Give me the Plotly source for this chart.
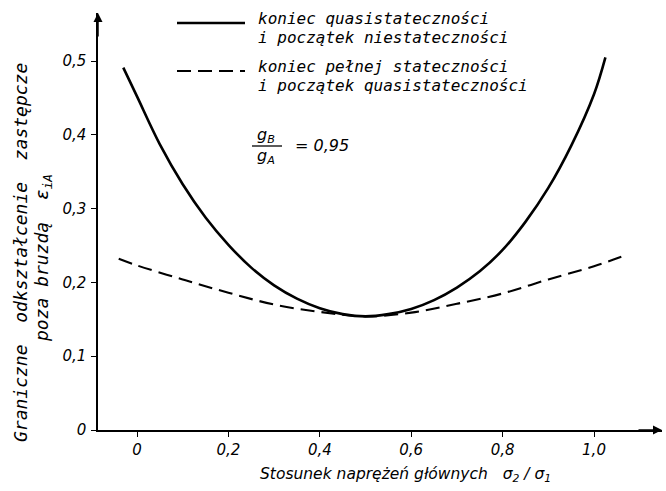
import plotly.graph_objects as go

# ---- data ----
solid_x = [-0.03, 0.0, 0.05, 0.1, 0.15, 0.2, 0.25, 0.3, 0.35, 0.4, 0.45, 0.5,
           0.55, 0.6, 0.65, 0.7, 0.75, 0.8, 0.85, 0.9, 0.95, 1.0, 1.025]
solid_y = [0.491, 0.452, 0.387, 0.333, 0.288, 0.251, 0.220, 0.196, 0.178, 0.165, 0.157, 0.154,
           0.157, 0.164, 0.176, 0.193, 0.215, 0.244, 0.282, 0.328, 0.385, 0.455, 0.505]

dash_x = [-0.04, 0.0, 0.1, 0.2, 0.3, 0.4, 0.5, 0.6, 0.7, 0.8, 0.9, 1.0, 1.07]
dash_y = [0.232, 0.223, 0.204, 0.186, 0.170, 0.160, 0.154, 0.159, 0.171, 0.185, 0.204, 0.222, 0.237]

x_tickvals = [0, 0.2, 0.4, 0.6, 0.8, 1.0]
x_ticktext = ["0", "0,2", "0,4", "0,6", "0,8", "1,0"]
y_tickvals = [0, 0.1, 0.2, 0.3, 0.4, 0.5]
y_ticktext = ["0", "0,1", "0,2", "0,3", "0,4", "0,5"]

name_solid = ["koniec quasistateczności", "i początek niestateczności"]
name_dash = ["koniec pełnej stateczności", "i początek quasistateczności"]

SANS = "DejaVu Sans"
MONO = "DejaVu Sans Mono"
W, H = 666, 491
L, R, T, B = 98, 4, 13, 61
PW, PH = W - L - R, H - T - B


def px(xp):
    return (xp - L) / PW


def py(yp):
    return (H - B - yp) / PH


fig = go.Figure()
fig.add_trace(go.Scatter(x=solid_x, y=solid_y, mode="lines", name=" ".join(name_solid),
                         line=dict(color="black", width=2.6, shape="spline", smoothing=1.0),
                         showlegend=False))
fig.add_trace(go.Scatter(x=dash_x, y=dash_y, mode="lines", name=" ".join(name_dash),
                         line=dict(color="black", width=2.1, dash="14px,7px", shape="spline",
                                   smoothing=1.0),
                         showlegend=False))

axis_font = dict(family=SANS, size=15, color="black", style="italic")
fig.update_xaxes(range=[(L - 137) / 457, (W - R - 137) / 457], showgrid=False, zeroline=False,
                 showline=True, linecolor="black", linewidth=1.5,
                 ticks="outside", ticklen=5, tickcolor="black", tickwidth=1.2,
                 tickvals=x_tickvals, ticktext=x_ticktext, tickfont=axis_font)
fig.update_yaxes(range=[0, (H - B - T) / 738], showgrid=False, zeroline=False,
                 showline=True, linecolor="black", linewidth=1.5,
                 ticks="outside", ticklen=5, tickcolor="black", tickwidth=1.2,
                 tickvals=y_tickvals, ticktext=y_ticktext, tickfont=axis_font,
                 ticklabelstandoff=2)

ann = []
leg_font = dict(family=MONO, size=16, color="black", style="italic")
# legend texts
for yc, t in zip([18, 38, 67, 85], name_solid + name_dash):
    ann.append(dict(xref="paper", yref="paper", x=px(256), y=py(yc), text=t,
                    showarrow=False, xanchor="left", yanchor="middle", font=leg_font))
# fraction
frac_font = dict(family=SANS, size=16, color="black", style="italic")
ann.append(dict(xref="paper", yref="paper", x=px(266), y=py(135), text="g<sub>B</sub>",
                showarrow=False, xanchor="center", yanchor="middle", font=frac_font))
ann.append(dict(xref="paper", yref="paper", x=px(266), y=py(157), text="g<sub>A</sub>",
                showarrow=False, xanchor="center", yanchor="middle", font=frac_font))
ann.append(dict(xref="paper", yref="paper", x=px(293), y=py(145), text="= 0,95",
                showarrow=False, xanchor="left", yanchor="middle", font=frac_font))
# axis titles
ytitle_font = dict(family=MONO, size=18, color="black", style="italic")
ann.append(dict(xref="paper", yref="paper", x=px(20), y=py(253),
                text="Graniczne  odkształcenie  zastępcze", textangle=-90,
                showarrow=False, xanchor="center", yanchor="middle", font=ytitle_font))
ann.append(dict(xref="paper", yref="paper", x=px(43), y=py(258),
                text="poza bruzdą  ε<sub>iA</sub>", textangle=-90,
                showarrow=False, xanchor="center", yanchor="middle", font=ytitle_font))
xtitle_font = dict(family=SANS, size=15.5, color="black", style="italic")
ann.append(dict(xref="paper", yref="paper", x=px(405), y=py(475),
                text="Stosunek naprężeń głównych   σ<sub>2</sub> / σ<sub>1</sub>",
                showarrow=False, xanchor="center", yanchor="middle", font=xtitle_font))
# axis arrowheads
ann.append(dict(xref="paper", yref="paper", x=0, y=1, ax=0, ay=25, showarrow=True,
                arrowhead=2, arrowsize=1.2, arrowwidth=1.5, arrowcolor="black", text=""))
ann.append(dict(xref="paper", yref="paper", x=1, y=0, ax=-25, ay=0, showarrow=True,
                arrowhead=2, arrowsize=1.2, arrowwidth=1.5, arrowcolor="black", text=""))

shapes = [
    dict(type="line", xref="paper", yref="paper", x0=px(177), x1=px(245), y0=py(23), y1=py(23),
         line=dict(color="black", width=2.6)),
    dict(type="line", xref="paper", yref="paper", x0=px(177), x1=px(245), y0=py(71), y1=py(71),
         line=dict(color="black", width=2.1, dash="14px,7px")),
    dict(type="line", xref="paper", yref="paper", x0=px(252), x1=px(282), y0=py(146), y1=py(146),
         line=dict(color="black", width=1.3)),
]

fig.update_layout(width=W, height=H, margin=dict(l=L, r=R, t=T, b=B),
                  paper_bgcolor="white", plot_bgcolor="white",
                  annotations=ann, shapes=shapes, showlegend=False)

fig.write_html("out.html")
